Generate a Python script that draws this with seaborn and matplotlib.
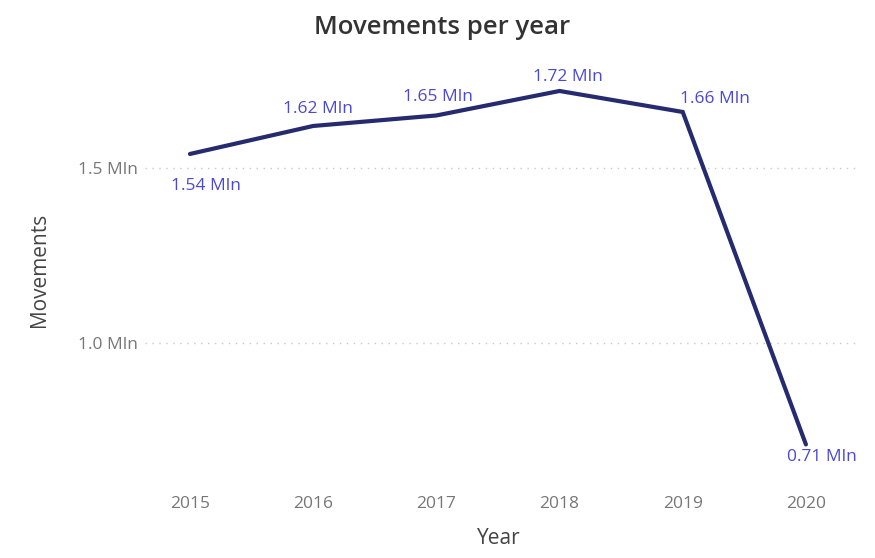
import matplotlib
matplotlib.use("Agg")
import matplotlib.pyplot as plt
import seaborn as sns
import pandas as pd

years = [2015, 2016, 2017, 2018, 2019, 2020]
movements_mln = [1.54, 1.62, 1.65, 1.72, 1.66, 0.71]
value_labels = ["1.54 Mln", "1.62 Mln", "1.65 Mln", "1.72 Mln", "1.66 Mln", "0.71 Mln"]
ytick_values = [1.0, 1.5]
ytick_labels = ["1.0 Mln", "1.5 Mln"]

# label offsets in pixels relative to each point
label_offsets = [(16, -32), (5, 17), (2, 18), (8, 14), (32, 13), (16, -13)]

sns.set_theme(style="white")
plt.rcParams["font.family"] = ["Open Sans", "DejaVu Sans"]

df = pd.DataFrame({"Year": years, "Movements": movements_mln})

fig = plt.figure(figsize=(8.75, 5.58), dpi=100)
ax = fig.add_axes([0.1657, 0.1577, 0.983 - 0.1657, 0.8746 - 0.1577])

sns.lineplot(data=df, x="Year", y="Movements", ax=ax, color="#262B70",
             linewidth=3.0, solid_joinstyle="miter")

ax.set_xlim(2014.635, 2020.44)
ax.set_ylim(0.637, 1.78)
ax.set_xticks(years)
ax.set_xticklabels([str(y) for y in years])
ax.set_yticks(ytick_values)
ax.set_yticklabels(ytick_labels)

ax.grid(axis="y", linestyle=(0, (1, 4)), color="#C8C8C8", linewidth=1.0)
ax.grid(axis="x", visible=False)
for s in ax.spines.values():
    s.set_visible(False)

ax.tick_params(axis="both", length=0, labelsize=12.5, labelcolor="#777777")
ax.tick_params(axis="y", pad=5)
ax.tick_params(axis="x", pad=19)

for x, y, txt, (dx, dy) in zip(years, movements_mln, value_labels, label_offsets):
    ax.annotate(txt, (x, y), xytext=(dx, dy), textcoords="offset pixels",
                ha="center", va="center", fontsize=12.5, color="#4A48D8")

ax.set_xlabel("Year", fontsize=15, color="#444444", labelpad=12)
ax.set_ylabel("Movements", fontsize=15, color="#444444", labelpad=20)
ax.xaxis.set_label_coords(0.495, -0.145)
fig.suptitle("Movements per year", x=0.505, y=0.974, fontsize=18.5,
             color="#333333", fontweight="semibold")

fig.savefig("out.png", dpi=100, facecolor="white")
